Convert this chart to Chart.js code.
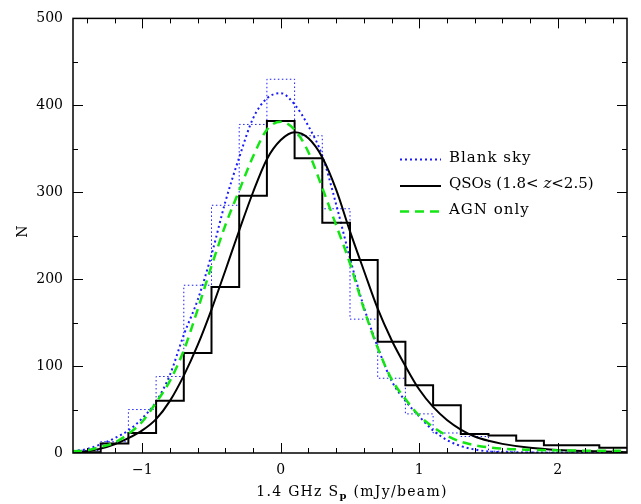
<!DOCTYPE html>
<html>
<head>
<meta charset="utf-8">
<script src="https://cdn.jsdelivr.net/npm/chart.js@4.4.1/dist/chart.umd.min.js"></script>
<style>
  html, body { margin: 0; padding: 0; background: #fff; }
</style>
</head>
<body>
<canvas id="fluxChart" width="641" height="504"></canvas>
<script>
// histogram bins, 0.2 mJy/beam wide
const binEdges = [-1.5, -1.3, -1.1, -0.9, -0.7, -0.5, -0.3, -0.1, 0.1, 0.3, 0.5,
                  0.7, 0.9, 1.1, 1.3, 1.5, 1.7, 1.9, 2.1, 2.3, 2.5];
const qsoCounts = [1, 11, 23, 60, 115, 191, 296, 382, 339, 265, 222, 128, 78, 55, 22, 20, 14, 9, 9, 6];
const skyCounts = [3, 13, 50, 88, 193, 285, 378, 430, 365, 281, 154, 86, 45, 23, 19, 2, 1, 1, 1, 1];

// smooth fits
const curveX = [-1.5, -1.4, -1.3, -1.2, -1.1, -1.0, -0.9, -0.8, -0.7, -0.6, -0.5, -0.4, -0.3, -0.2, -0.1, 0,
                0.1, 0.2, 0.3, 0.4, 0.5, 0.6, 0.7, 0.8, 0.9, 1.0, 1.1, 1.2, 1.3, 1.4, 1.5, 1.6, 1.8, 2.0, 2.2, 2.5];
const skyCurve = [2, 4.5, 10, 17, 26, 40, 59, 90, 136, 176, 228, 289, 340, 385, 408, 414,
                  401, 376, 342, 286, 224, 168, 122, 83, 60, 42, 26, 15, 8, 4, 1.8, 1, 0.5, 0.3, 0.2, 0.1];
const qsoCurve = [0.8, 2, 5, 10, 17, 26, 39, 60, 89, 124, 165, 210, 256, 300, 338, 360,
                  369, 362, 340, 303, 255, 210, 166, 130, 100, 73, 53, 38, 27, 19, 14, 10.5, 6, 3.5, 2.2, 1];
const agnCurve = [2, 3, 7, 12, 22, 36, 58, 83, 118, 165, 215, 262, 302, 341, 372, 381,
                  372, 346, 305, 262, 218, 166, 121, 85, 62, 43, 30, 20, 13, 9, 6.5, 5, 3.7, 3, 2.7, 2.5];

const xTickValues = [-1, 0, 1, 2];
const yTickValues = [0, 100, 200, 300, 400, 500];
const legendLabels = ['Blank sky', 'QSOs (1.8< z<2.5)', 'AGN only'];

const serif = '"DejaVu Serif", "Liberation Serif", serif';
const BLUE = '#1a1aff';
const GREEN = '#14e614';

function toPoints(xs, ys) {
    return xs.map((v, i) => ({ x: v, y: ys[i] }));
}

function toSteps(edges, counts) {
    // each point carries the count of the bin that starts at it;
    // the last edge repeats the last count so the final bin gets its top
    return edges.map((e, i) => ({ x: e, y: counts[Math.min(i, counts.length - 1)] }));
}

// box round the plot with inward ticks on all four sides
const frameTicks = {
    id: 'frameTicks',
    afterDatasetsDraw(chart) {
        const { ctx, chartArea: a, scales } = chart;
        ctx.save();
        ctx.strokeStyle = '#000';
        ctx.lineWidth = 1;
        ctx.beginPath();
        for (let i = -7; i <= 12; i++) {
            const px = Math.round(scales.x.getPixelForValue(i / 5)) + 0.5;
            const len = i % 5 === 0 ? 10 : 5;
            ctx.moveTo(px, a.bottom); ctx.lineTo(px, a.bottom - len);
            ctx.moveTo(px, a.top); ctx.lineTo(px, a.top + len);
        }
        for (let v = 50; v < 500; v += 50) {
            const py = Math.round(scales.y.getPixelForValue(v)) + 0.5;
            const len = v % 100 === 0 ? 10 : 5;
            ctx.moveTo(a.left, py); ctx.lineTo(a.left + len, py);
            ctx.moveTo(a.right, py); ctx.lineTo(a.right - len, py);
        }
        ctx.stroke();
        ctx.lineWidth = 1.5;
        ctx.strokeRect(a.left, a.top, a.right - a.left, a.bottom - a.top);
        ctx.restore();
    }
};

function drawRuns(ctx, runs, x, y) {
    // runs: [text, font, dy]
    let cx = x;
    runs.forEach(([text, font, dy]) => {
        ctx.font = font;
        ctx.fillText(text, cx, y + (dy || 0));
        cx += ctx.measureText(text).width;
    });
    return cx;
}

function runsWidth(ctx, runs) {
    let w = 0;
    runs.forEach(([text, font]) => { ctx.font = font; w += ctx.measureText(text).width; });
    return w;
}

// axis titles and the key
const titlesAndKey = {
    id: 'titlesAndKey',
    afterDraw(chart) {
        const { ctx, chartArea: a } = chart;
        ctx.save();
        ctx.fillStyle = '#000';
        ctx.letterSpacing = '1.3px';
        ctx.textBaseline = 'alphabetic';

        // x title
        const xRuns = [
            ['1.4 GHz S', '14px ' + serif, 0],
            ['p', 'bold 10px ' + serif, 3],
            [' (mJy/beam)', '14px ' + serif, 0]
        ];
        const w = runsWidth(ctx, xRuns);
        drawRuns(ctx, xRuns, (a.left + a.right) / 2 + 2 - w / 2, 496);

        // y title
        ctx.save();
        ctx.translate(27, 231);
        ctx.rotate(-Math.PI / 2);
        ctx.font = '14px ' + serif;
        ctx.textAlign = 'center';
        ctx.fillText('N', 0, 0);
        ctx.restore();

        // key
        const rows = [158, 184.5, 210];
        const ds = chart.data.datasets;
        const styles = [ds.find(d => d.label === legendLabels[0] && !d.isHist),
                        ds.find(d => d.label === legendLabels[1] && !d.isHist),
                        ds.find(d => d.label === legendLabels[2])];
        ctx.textBaseline = 'middle';
        rows.forEach((ry, i) => {
            const s = styles[i];
            ctx.save();
            ctx.strokeStyle = s.borderColor;
            ctx.lineWidth = s.borderWidth;
            ctx.setLineDash(s.borderDash || []);
            ctx.beginPath();
            ctx.moveTo(400, ry + 1.5);
            ctx.lineTo(441, ry + 1.5);
            ctx.stroke();
            ctx.restore();
        });
        const f = '15px ' + serif;
        ctx.letterSpacing = '1px';
        drawRuns(ctx, [[legendLabels[0], f, 0]], 449, rows[0]);
        drawRuns(ctx, [[legendLabels[2], f, 0]], 449, rows[2]);
        ctx.letterSpacing = '0px';
        drawRuns(ctx, [['QSOs (1.8< ', f, 0], ['z', 'italic ' + f, 0], ['<2.5)', f, 0]], 449, rows[1]);
        ctx.restore();
    }
};

const tickFont = { family: serif, size: 14 };

new Chart(document.getElementById('fluxChart'), {
    type: 'line',
    data: {
        datasets: [
            {
                label: 'AGN only',
                data: toPoints(curveX, agnCurve),
                borderColor: GREEN,
                borderWidth: 2.5,
                borderDash: [9, 6],
                cubicInterpolationMode: 'monotone',
                pointRadius: 0
            },
            {
                label: 'QSOs (1.8< z<2.5)',
                data: toPoints(curveX, qsoCurve),
                borderColor: '#000',
                borderWidth: 2,
                cubicInterpolationMode: 'monotone',
                pointRadius: 0
            },
            {
                label: 'QSOs (1.8< z<2.5)',
                isHist: true,
                data: toSteps(binEdges, qsoCounts),
                borderColor: '#000',
                borderWidth: 2,
                stepped: 'before',
                pointRadius: 0
            },
            {
                label: 'Blank sky',
                data: toPoints(curveX, skyCurve),
                borderColor: BLUE,
                borderWidth: 2,
                borderDash: [2, 3],
                cubicInterpolationMode: 'monotone',
                pointRadius: 0
            },
            {
                label: 'Blank sky',
                isHist: true,
                data: toSteps(binEdges, skyCounts),
                borderColor: BLUE,
                borderWidth: 1,
                borderDash: [1.5, 2.5],
                stepped: 'before',
                pointRadius: 0
            }
        ]
    },
    options: {
        responsive: false,
        animation: false,
        layout: { padding: { top: 10, right: 14, left: 0, bottom: 0 } },
        plugins: {
            legend: { display: false },
            tooltip: { enabled: false }
        },
        scales: {
            x: {
                type: 'linear',
                min: -1.5,
                max: 2.5,
                grid: { display: false, drawTicks: false },
                border: { display: false },
                afterBuildTicks: s => { s.ticks = xTickValues.map(v => ({ value: v })); },
                afterFit: s => { s.height = 51; },
                ticks: {
                    padding: 9,
                    color: '#000',
                    font: tickFont,
                    maxRotation: 0,
                    callback: v => v < 0 ? '\u2212' + Math.abs(v) : String(v)
                }
            },
            y: {
                min: 0,
                max: 500,
                grid: { display: false, drawTicks: false },
                border: { display: false },
                afterBuildTicks: s => { s.ticks = yTickValues.map(v => ({ value: v })); },
                afterFit: s => { s.width = 73; },
                ticks: {
                    padding: 10,
                    color: '#000',
                    font: tickFont
                }
            }
        }
    },
    plugins: [frameTicks, titlesAndKey]
});
</script>
</body>
</html>
